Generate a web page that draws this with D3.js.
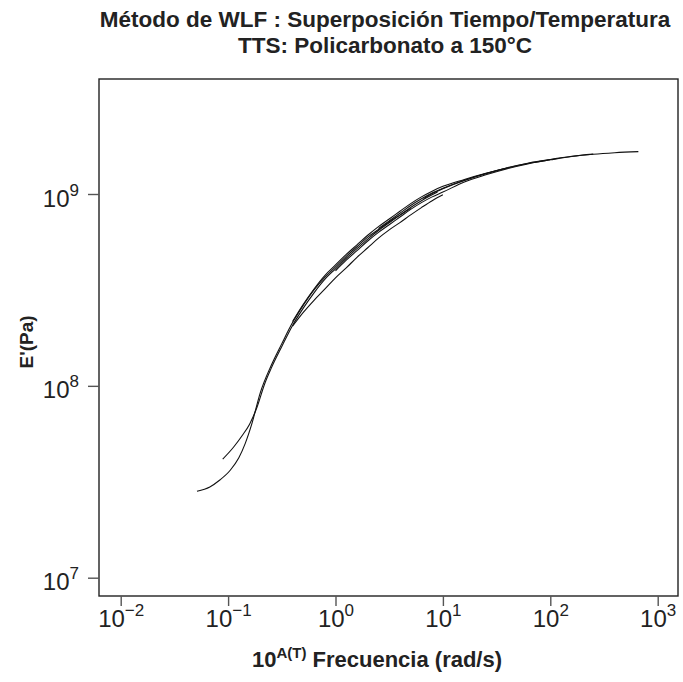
<!DOCTYPE html>
<html>
<head>
<meta charset="utf-8">
<script src="https://cdn.jsdelivr.net/npm/d3@7"></script>
<style>
  body { margin: 0; background: #fff; }
  svg { display: block; font-family: "Liberation Sans", Arial, Helvetica, sans-serif; }
</style>
</head>
<body>
<svg id="chart" width="683" height="682"></svg>
<script>
// Storage modulus E' (Pa) against shifted frequency (rad/s), one array pair per temperature run
const segA_freq = [0.0513, 0.0676, 0.0832, 0.1047, 0.1259, 0.1445, 0.1660, 0.1995, 0.2512, 0.3162, 0.3981, 0.5012, 0.6310, 0.7943, 1, 1.259, 1.585, 1.995, 2.512, 3.162, 3.981, 5.012];
const segA_mod  = [2.825e7, 2.972e7, 3.221e7, 3.631e7, 4.217e7, 5.012e7, 6.310e7, 9.226e7, 1.274e8, 1.660e8, 2.138e8, 2.630e8, 3.162e8, 3.673e8, 4.169e8, 4.732e8, 5.309e8, 5.957e8, 6.531e8, 7.161e8, 7.762e8, 8.414e8];

const segB_freq = [0.0891, 0.1122, 0.1349, 0.1585, 0.1862, 0.2188, 0.2512, 0.3162, 0.3981, 0.5012, 0.6310, 0.7943, 1, 1.259, 1.585, 1.995, 2.512, 3.162, 3.981, 5.012, 6.310, 8.913];
const segB_mod  = [4.150e7, 4.786e7, 5.495e7, 6.310e7, 7.762e7, 1.023e8, 1.230e8, 1.603e8, 2.065e8, 2.541e8, 3.055e8, 3.589e8, 4.074e8, 4.624e8, 5.188e8, 5.821e8, 6.457e8, 7.079e8, 7.762e8, 8.511e8, 9.226e8, 1.023e9];

const segC_freq = [0.3981, 0.5012, 0.6310, 0.7943, 1, 1.259, 1.585, 1.995, 2.512, 3.162, 3.981, 5.012, 6.310, 7.943, 10];
const segC_mod  = [2.046e8, 2.415e8, 2.793e8, 3.192e8, 3.656e8, 4.121e8, 4.677e8, 5.248e8, 5.888e8, 6.501e8, 7.096e8, 7.780e8, 8.492e8, 9.226e8, 9.897e8];

const segD_freq = [0.3981, 0.5012, 0.6310, 0.7943, 1, 1.259, 1.585, 1.995, 2.512, 3.162, 3.981, 5.012, 6.310, 7.943, 10, 15.85, 25.12, 39.81];
const segD_mod  = [2.163e8, 2.661e8, 3.199e8, 3.758e8, 4.266e8, 4.842e8, 5.433e8, 6.095e8, 6.761e8, 7.413e8, 8.128e8, 8.913e8, 9.661e8, 1.035e9, 1.096e9, 1.191e9, 1.282e9, 1.365e9];

const segE_freq = [1, 1.259, 1.585, 1.995, 2.512, 3.162, 3.981, 5.012, 6.310, 7.943, 10, 15.85, 25.12, 39.81, 63.10, 100];
const segE_mod  = [3.981e8, 4.519e8, 5.070e8, 5.689e8, 6.310e8, 6.918e8, 7.586e8, 8.318e8, 9.016e8, 9.661e8, 1.023e9, 1.156e9, 1.259e9, 1.355e9, 1.439e9, 1.507e9];

const segF_freq = [2.512, 3.162, 3.981, 5.012, 6.310, 7.943, 10, 15.85, 25.12, 39.81, 63.10, 100, 158.5, 251.2];
const segF_mod  = [6.607e8, 7.244e8, 7.943e8, 8.710e8, 9.441e8, 1.012e9, 1.072e9, 1.180e9, 1.279e9, 1.371e9, 1.452e9, 1.514e9, 1.574e9, 1.614e9];

const segG_freq = [6.607, 7.943, 10, 15.85, 25.12, 39.81, 63.10, 100, 158.5, 251.2, 398.1, 660.7];
const segG_mod  = [9.441e8, 1.005e9, 1.064e9, 1.175e9, 1.274e9, 1.365e9, 1.445e9, 1.507e9, 1.567e9, 1.611e9, 1.641e9, 1.663e9];

const xTickExps = [-2, -1, 0, 1, 2, 3];
const yTickExps = [7, 8, 9];

const titleLines = ["Método de WLF : Superposición Tiempo/Temperatura", "TTS: Policarbonato a 150°C"];

const runs = [
  [segA_freq, segA_mod], [segB_freq, segB_mod], [segC_freq, segC_mod],
  [segD_freq, segD_mod], [segE_freq, segE_mod], [segF_freq, segF_mod],
  [segG_freq, segG_mod]
].map(([f, m]) => f.map((v, i) => [v, m[i]]));

// plot box
const box = { left: 99, right: 678, top: 79, bottom: 596 };

const svg = d3.select("#chart");

const x = d3.scaleLog().domain([1e-2, 1e3]).range([120.7, 657.7]);
const y = d3.scaleLog().domain([1e7, 1e9]).range([577.7, 194]);

// curves
const line = d3.line()
  .x(d => x(d[0]))
  .y(d => y(d[1]))
  .curve(d3.curveMonotoneX);

svg.append("g")
  .selectAll("path")
  .data(runs)
  .join("path")
  .attr("d", line)
  .attr("fill", "none")
  .attr("stroke", "#111")
  .attr("stroke-width", 1.1);

// frame
svg.append("rect")
  .attr("x", box.left).attr("y", box.top)
  .attr("width", box.right - box.left).attr("height", box.bottom - box.top)
  .attr("fill", "none").attr("stroke", "#222").attr("stroke-width", 1.4);

// x axis
const xAxis = svg.append("g")
  .attr("transform", `translate(0,${box.bottom})`)
  .call(d3.axisBottom(x).tickValues(xTickExps.map(e => Math.pow(10, e))).tickSize(10).tickFormat(""));
xAxis.select(".domain").remove();
xAxis.selectAll(".tick line").attr("stroke", "#555").attr("stroke-width", 1.4);
xAxis.selectAll(".tick").each(function (d, i) {
  const t = d3.select(this).append("text")
    .attr("y", 31)
    .attr("text-anchor", "middle")
    .attr("fill", "#222")
    .attr("font-size", 24);
  t.append("tspan").text("10");
  t.append("tspan").attr("dy", -11).attr("font-size", 17)
    .text(xTickExps[i] < 0 ? "\u2212" + Math.abs(xTickExps[i]) : String(xTickExps[i]));
});

// y axis
const yAxis = svg.append("g")
  .attr("transform", `translate(${box.left},0)`)
  .call(d3.axisLeft(y).tickValues(yTickExps.map(e => Math.pow(10, e))).tickSize(11).tickFormat(""));
yAxis.select(".domain").remove();
yAxis.selectAll(".tick line").attr("stroke", "#555").attr("stroke-width", 1.4);
yAxis.selectAll(".tick").each(function (d, i) {
  const t = d3.select(this).append("text")
    .attr("x", -20)
    .attr("y", 12)
    .attr("text-anchor", "end")
    .attr("fill", "#222")
    .attr("font-size", 24);
  t.append("tspan").text("10");
  t.append("tspan").attr("dy", -11).attr("font-size", 17).text(String(yTickExps[i]));
});

// title
svg.append("g").selectAll("text")
  .data(titleLines)
  .join("text")
  .attr("x", 385)
  .attr("y", (d, i) => 27 + i * 26)
  .attr("text-anchor", "middle")
  .attr("font-weight", "bold")
  .attr("font-size", 22.5)
  .attr("fill", "#222")
  .text(d => d);

// axis titles
const xl = svg.append("text")
  .attr("x", 377).attr("y", 667)
  .attr("text-anchor", "middle")
  .attr("font-weight", "bold")
  .attr("font-size", 22)
  .attr("fill", "#222");
xl.append("tspan").text("10");
xl.append("tspan").attr("dy", -9).attr("font-size", 15).text("A(T)");
xl.append("tspan").attr("dy", 9).text(" Frecuencia (rad/s)");

svg.append("text")
  .attr("transform", "translate(33,342) rotate(-90)")
  .attr("text-anchor", "middle")
  .attr("font-weight", "bold")
  .attr("font-size", 19)
  .attr("fill", "#222")
  .text("E'(Pa)");
</script>
</body>
</html>
